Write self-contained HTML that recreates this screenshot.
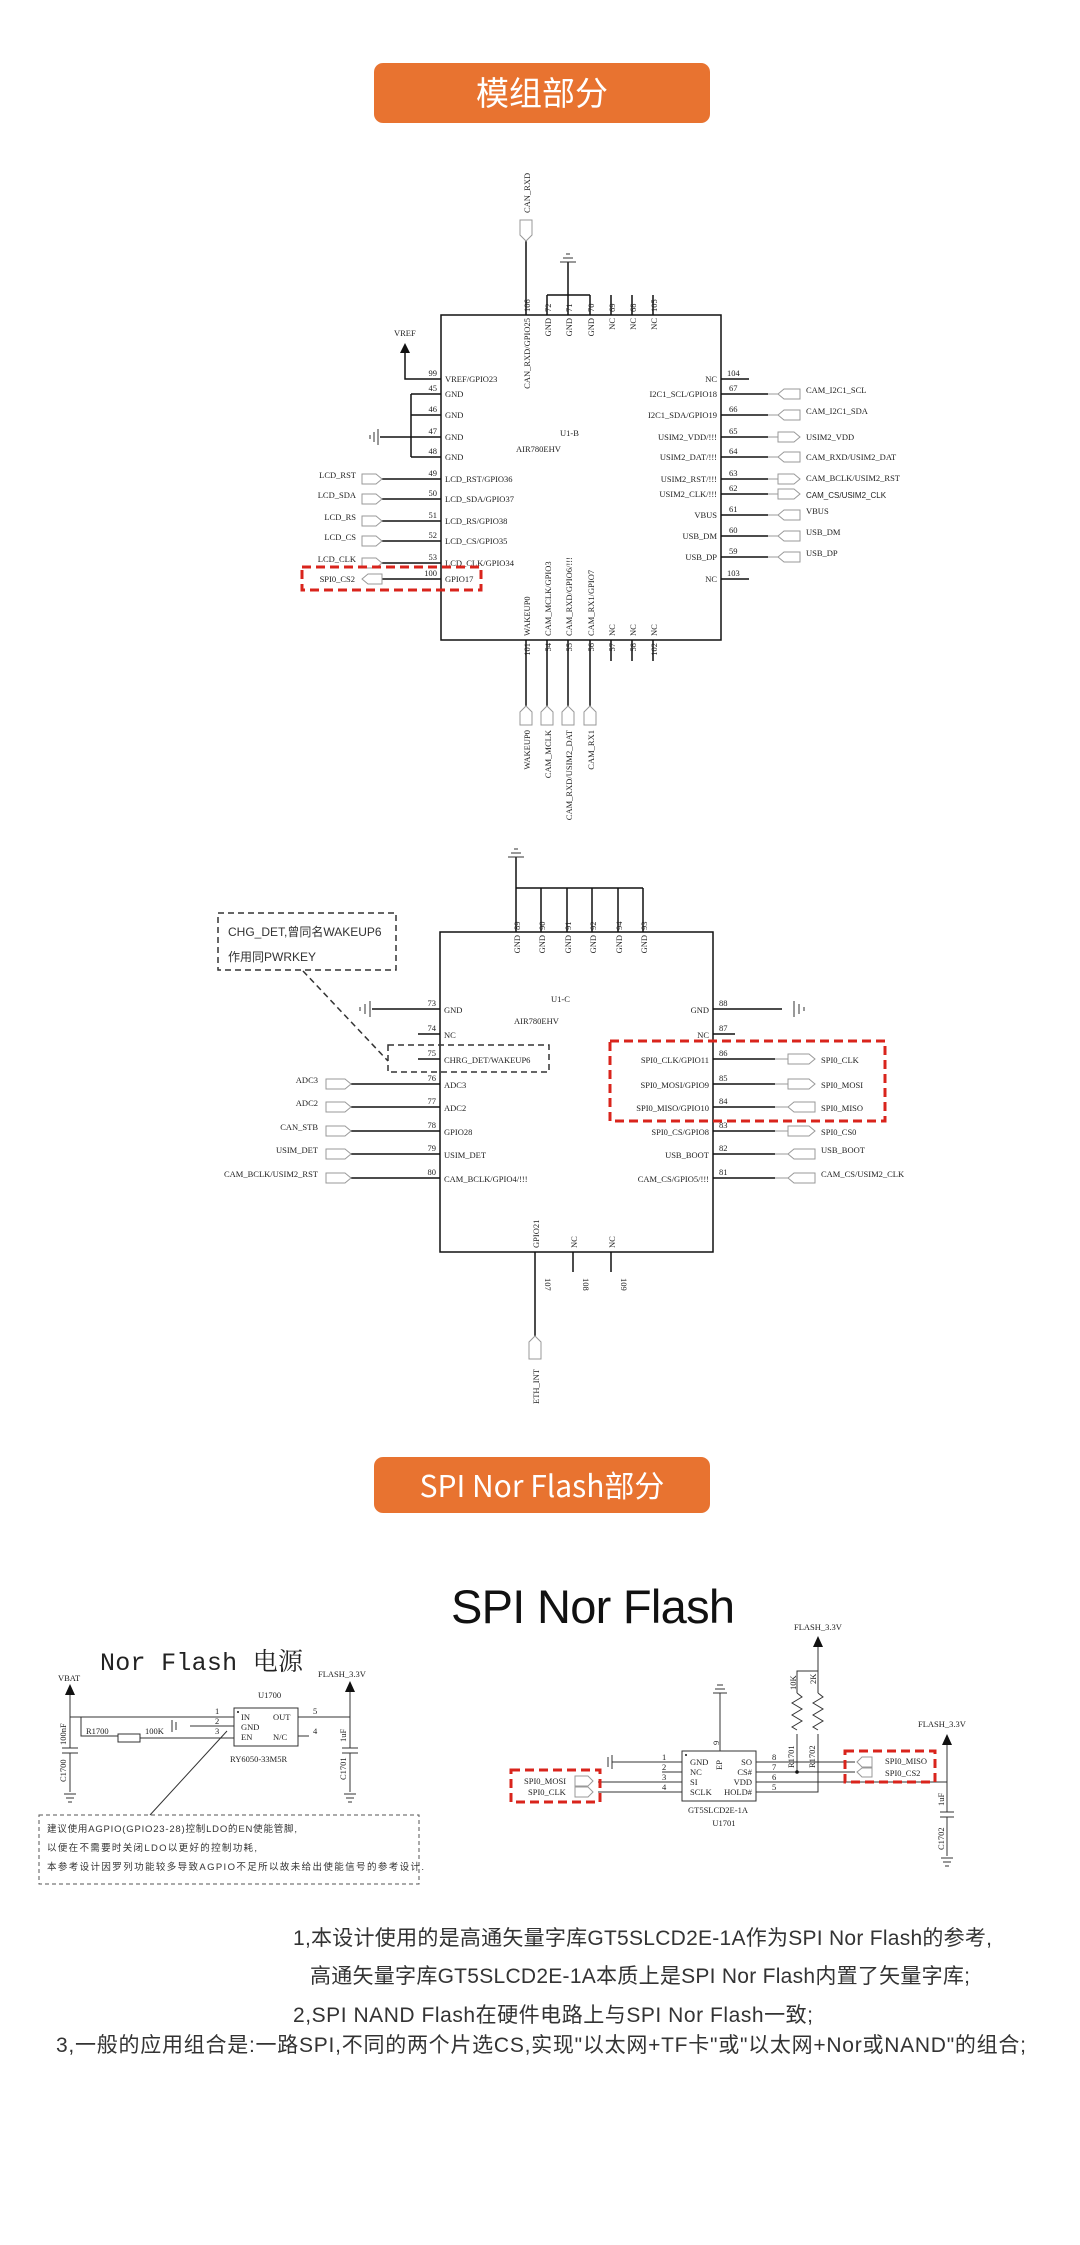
<!DOCTYPE html>
<html><head><meta charset="utf-8"><style>
html,body{margin:0;padding:0;background:#fff}
svg{display:block}
.s{font-family:"Liberation Serif","Noto Serif CJK SC",serif;font-size:8.5px;fill:#222}
.n{font-family:"Liberation Serif",serif;font-size:8.5px;fill:#222}
.l{stroke:#111;stroke-width:1.5;fill:none}
.t{stroke:#333;stroke-width:1;fill:none}
.c{stroke:#999;stroke-width:1;fill:#fff}
.r{stroke:#d9241c;stroke-width:3;stroke-dasharray:9,5;fill:none}
.k{stroke:#333;stroke-width:1.5;stroke-dasharray:6,4;fill:none}
.cj{font-family:"Liberation Sans","Noto Sans CJK SC",sans-serif;fill:#333}
</style></head><body>
<svg width="1080" height="2245" viewBox="0 0 1080 2245" xmlns="http://www.w3.org/2000/svg">
<!-- header 1 -->
<rect x="374" y="63" width="336" height="60" rx="9" fill="#e87330"/>
<text x="542" y="105" text-anchor="middle" font-family="'Noto Sans CJK SC',sans-serif" font-size="33" fill="#fff">模组部分</text>

<!-- ===== U1-B ===== -->
<rect x="441" y="315" width="280" height="325" class="l"/>
<text x="560" y="436" class="s">U1-B</text>
<text x="516" y="452" class="s">AIR780EHV</text>
<!-- top pins -->
<g class="l">
<path d="M526 315V241M547 315V295M568 315V262M590 315V295M611 315V295M632 315V295M653 315V295M547 295H590"/>
<path d="M560 262H576M563 258H573M566 254H570" class="t"/>
</g>
<polygon points="520,220 532,220 532,235 526,241 520,235" class="c"/>
<text transform="translate(530,213) rotate(-90)" class="s">CAN_RXD</text>
<g class="n">
<text transform="translate(530,312) rotate(-90)">106</text>
<text transform="translate(551,312) rotate(-90)">72</text>
<text transform="translate(572,312) rotate(-90)">71</text>
<text transform="translate(594,312) rotate(-90)">70</text>
<text transform="translate(615,312) rotate(-90)">69</text>
<text transform="translate(636,312) rotate(-90)">68</text>
<text transform="translate(657,312) rotate(-90)">105</text>
</g>
<g class="s" text-anchor="end">
<text transform="translate(530,318) rotate(-90)">CAN_RXD/GPIO25</text>
<text transform="translate(551,318) rotate(-90)">GND</text>
<text transform="translate(572,318) rotate(-90)">GND</text>
<text transform="translate(594,318) rotate(-90)">GND</text>
<text transform="translate(615,318) rotate(-90)">NC</text>
<text transform="translate(636,318) rotate(-90)">NC</text>
<text transform="translate(657,318) rotate(-90)">NC</text>
</g>
<!-- VREF -->
<polygon points="400,353 410,353 405,343" fill="#111"/>
<text x="394" y="336" class="s">VREF</text>
<path d="M405 353V379H441" class="l"/>
<!-- GND bracket -->
<path d="M411 394V457M411 394H441M411 415H441M411 437H441M411 457H441M380 437H411" class="l"/>
<path d="M378 429V445M374 432V442M370 435V439" class="t"/>
<!-- left pins -->
<g class="l"><path d="M382 479H441M382 499H441M382 521H441M382 541H441M382 563H441M382 579H441"/></g>
<g class="c">
<polygon points="362,474 376,474 382,479 376,484 362,484"/>
<polygon points="362,494 376,494 382,499 376,504 362,504"/>
<polygon points="362,516 376,516 382,521 376,526 362,526"/>
<polygon points="362,536 376,536 382,541 376,546 362,546"/>
<polygon points="362,558 376,558 382,563 376,568 362,568"/>
<polygon points="362,579 368,574 382,574 382,584 368,584"/>
</g>
<g class="n" text-anchor="end">
<text x="437" y="376">99</text><text x="437" y="391">45</text><text x="437" y="412">46</text><text x="437" y="434">47</text><text x="437" y="454">48</text><text x="437" y="476">49</text><text x="437" y="496">50</text><text x="437" y="518">51</text><text x="437" y="538">52</text><text x="437" y="560">53</text><text x="437" y="576">100</text>
</g>
<g class="s" text-anchor="end">
<text x="356" y="478">LCD_RST</text><text x="356" y="498">LCD_SDA</text><text x="356" y="520">LCD_RS</text><text x="356" y="540">LCD_CS</text><text x="356" y="562">LCD_CLK</text><text x="355" y="582">SPI0_CS2</text>
</g>
<g class="s">
<text x="445" y="382">VREF/GPIO23</text><text x="445" y="397">GND</text><text x="445" y="418">GND</text><text x="445" y="440">GND</text><text x="445" y="460">GND</text><text x="445" y="482">LCD_RST/GPIO36</text><text x="445" y="502">LCD_SDA/GPIO37</text><text x="445" y="524">LCD_RS/GPIO38</text><text x="445" y="544">LCD_CS/GPIO35</text><text x="445" y="566">LCD_CLK/GPIO34</text><text x="445" y="582">GPIO17</text>
</g>
<rect x="302" y="567" width="179" height="23" class="r"/>
<!-- right pins -->
<g class="l"><path d="M721 379H749M721 394H768M721 415H768M721 437H768M721 457H768M721 479H768M721 494H768M721 515H768M721 536H768M721 557H768M721 579H749"/></g>
<g class="c">
<polygon points="778,394 784,389 800,389 800,399 784,399"/>
<polygon points="778,415 784,410 800,410 800,420 784,420"/>
<polygon points="778,432 794,432 800,437 794,442 778,442"/>
<polygon points="778,457 784,452 800,452 800,462 784,462"/>
<polygon points="778,474 794,474 800,479 794,484 778,484"/>
<polygon points="778,489 794,489 800,494 794,499 778,499"/>
<polygon points="778,515 784,510 800,510 800,520 784,520"/>
<polygon points="778,536 784,531 800,531 800,541 784,541"/>
<polygon points="778,557 784,552 800,552 800,562 784,562"/>
</g>
<path d="M768 394H778M768 415H778M768 437H778M768 457H778M768 479H778M768 494H778M768 515H778M768 536H778M768 557H778" class="c"/>
<g class="n">
<text x="727" y="376">104</text><text x="729" y="391">67</text><text x="729" y="412">66</text><text x="729" y="434">65</text><text x="729" y="454">64</text><text x="729" y="476">63</text><text x="729" y="491">62</text><text x="729" y="512">61</text><text x="729" y="533">60</text><text x="729" y="554">59</text><text x="727" y="576">103</text>
</g>
<g class="s" text-anchor="end">
<text x="717" y="382">NC</text><text x="717" y="397">I2C1_SCL/GPIO18</text><text x="717" y="418">I2C1_SDA/GPIO19</text><text x="717" y="440">USIM2_VDD/!!!</text><text x="717" y="460">USIM2_DAT/!!!</text><text x="717" y="482">USIM2_RST/!!!</text><text x="717" y="497">USIM2_CLK/!!!</text><text x="717" y="518">VBUS</text><text x="717" y="539">USB_DM</text><text x="717" y="560">USB_DP</text><text x="717" y="582">NC</text>
</g>
<g class="s">
<text x="806" y="393">CAM_I2C1_SCL</text><text x="806" y="414">CAM_I2C1_SDA</text><text x="806" y="440">USIM2_VDD</text><text x="806" y="460">CAM_RXD/USIM2_DAT</text><text x="806" y="481">CAM_BCLK/USIM2_RST</text><text x="806" y="498" font-family="Liberation Sans" font-size="8">CAM_CS/USIM2_CLK</text><text x="806" y="514">VBUS</text><text x="806" y="535">USB_DM</text><text x="806" y="556">USB_DP</text>
</g>
<!-- bottom pins -->
<g class="l"><path d="M526 640V706M547 640V706M568 640V706M590 640V706M611 640V661M632 640V661M653 640V661"/></g>
<g class="c">
<polygon points="526,706 532,712 532,725 520,725 520,712"/>
<polygon points="547,706 553,712 553,725 541,725 541,712"/>
<polygon points="568,706 574,712 574,725 562,725 562,712"/>
<polygon points="590,706 596,712 596,725 584,725 584,712"/>
</g>
<g class="n" text-anchor="end">
<text transform="translate(530,643) rotate(-90)">101</text><text transform="translate(551,643) rotate(-90)">54</text><text transform="translate(572,643) rotate(-90)">55</text><text transform="translate(594,643) rotate(-90)">56</text><text transform="translate(615,643) rotate(-90)">57</text><text transform="translate(636,643) rotate(-90)">58</text><text transform="translate(657,643) rotate(-90)">102</text>
</g>
<g class="s">
<text transform="translate(530,636) rotate(-90)">WAKEUP0</text><text transform="translate(551,636) rotate(-90)">CAM_MCLK/GPIO3</text><text transform="translate(572,636) rotate(-90)">CAM_RXD/GPIO6/!!!</text><text transform="translate(594,636) rotate(-90)">CAM_RX1/GPIO7</text><text transform="translate(615,636) rotate(-90)">NC</text><text transform="translate(636,636) rotate(-90)">NC</text><text transform="translate(657,636) rotate(-90)">NC</text>
</g>
<g class="s" text-anchor="end">
<text transform="translate(530,730) rotate(-90)">WAKEUP0</text><text transform="translate(551,730) rotate(-90)">CAM_MCLK</text><text transform="translate(572,730) rotate(-90)">CAM_RXD/USIM2_DAT</text><text transform="translate(594,730) rotate(-90)">CAM_RX1</text>
</g>

<!-- ===== U1-C ===== -->
<rect x="440" y="932" width="273" height="320" class="l"/>
<text x="551" y="1002" class="s">U1-C</text>
<text x="514" y="1024" class="s">AIR780EHV</text>
<path d="M516 932V857M541 932V888M567 932V888M592 932V888M618 932V888M643 932V888M516 888H643" class="l"/>
<path d="M508 857H524M511 853H521M514 849H518" class="t"/>
<g class="n">
<text transform="translate(520,930) rotate(-90)">89</text><text transform="translate(545,930) rotate(-90)">90</text><text transform="translate(571,930) rotate(-90)">91</text><text transform="translate(596,930) rotate(-90)">92</text><text transform="translate(622,930) rotate(-90)">94</text><text transform="translate(647,930) rotate(-90)">93</text>
</g>
<g class="s" text-anchor="end">
<text transform="translate(520,935) rotate(-90)">GND</text><text transform="translate(545,935) rotate(-90)">GND</text><text transform="translate(571,935) rotate(-90)">GND</text><text transform="translate(596,935) rotate(-90)">GND</text><text transform="translate(622,935) rotate(-90)">GND</text><text transform="translate(647,935) rotate(-90)">GND</text>
</g>
<!-- left -->
<g class="l"><path d="M372 1009H440M418 1034H440M418 1059H440M351 1084H440M351 1107H440M351 1131H440M351 1154H440M351 1178H440"/></g>
<path d="M370 1001V1017M365 1004V1014M360 1007V1011" class="t"/>
<path d="M794 1001V1017M799 1004V1014M804 1007V1011" class="t"/>
<g class="c">
<polygon points="326,1079 345,1079 351,1084 345,1089 326,1089"/>
<polygon points="326,1102 345,1102 351,1107 345,1112 326,1112"/>
<polygon points="326,1126 345,1126 351,1131 345,1136 326,1136"/>
<polygon points="326,1149 345,1149 351,1154 345,1159 326,1159"/>
<polygon points="326,1173 345,1173 351,1178 345,1183 326,1183"/>
</g>
<g class="n" text-anchor="end">
<text x="436" y="1006">73</text><text x="436" y="1031">74</text><text x="436" y="1056">75</text><text x="436" y="1081">76</text><text x="436" y="1104">77</text><text x="436" y="1128">78</text><text x="436" y="1151">79</text><text x="436" y="1175">80</text>
</g>
<g class="s">
<text x="444" y="1013">GND</text><text x="444" y="1038">NC</text><text x="444" y="1063">CHRG_DET/WAKEUP6</text><text x="444" y="1088">ADC3</text><text x="444" y="1111">ADC2</text><text x="444" y="1135">GPIO28</text><text x="444" y="1158">USIM_DET</text><text x="444" y="1182">CAM_BCLK/GPIO4/!!!</text>
</g>
<g class="s" text-anchor="end">
<text x="318" y="1083">ADC3</text><text x="318" y="1106">ADC2</text><text x="318" y="1130">CAN_STB</text><text x="318" y="1153">USIM_DET</text><text x="318" y="1177">CAM_BCLK/USIM2_RST</text>
</g>
<!-- right -->
<g class="l"><path d="M713 1009H782M713 1034H735M713 1059H775M713 1084H775M713 1107H775M713 1131H775M713 1154H775M713 1178H775"/></g>
<path d="M775 1059H788M775 1084H788M775 1107H788M775 1131H788M775 1154H788M775 1178H788" class="c"/>
<g class="c">
<polygon points="788,1054 809,1054 815,1059 809,1064 788,1064"/>
<polygon points="788,1079 809,1079 815,1084 809,1089 788,1089"/>
<polygon points="788,1107 794,1102 815,1102 815,1112 794,1112"/>
<polygon points="788,1126 809,1126 815,1131 809,1136 788,1136"/>
<polygon points="788,1154 794,1149 815,1149 815,1159 794,1159"/>
<polygon points="788,1178 794,1173 815,1173 815,1183 794,1183"/>
</g>
<g class="n">
<text x="719" y="1006">88</text><text x="719" y="1031">87</text><text x="719" y="1056">86</text><text x="719" y="1081">85</text><text x="719" y="1104">84</text><text x="719" y="1128">83</text><text x="719" y="1151">82</text><text x="719" y="1175">81</text>
</g>
<g class="s" text-anchor="end">
<text x="709" y="1013">GND</text><text x="709" y="1038">NC</text><text x="709" y="1063">SPI0_CLK/GPIO11</text><text x="709" y="1088">SPI0_MOSI/GPIO9</text><text x="709" y="1111">SPI0_MISO/GPIO10</text><text x="709" y="1135">SPI0_CS/GPIO8</text><text x="709" y="1158">USB_BOOT</text><text x="709" y="1182">CAM_CS/GPIO5/!!!</text>
</g>
<g class="s">
<text x="821" y="1063">SPI0_CLK</text><text x="821" y="1088">SPI0_MOSI</text><text x="821" y="1111">SPI0_MISO</text><text x="821" y="1135">SPI0_CS0</text><text x="821" y="1153">USB_BOOT</text><text x="821" y="1177">CAM_CS/USIM2_CLK</text>
</g>
<rect x="610" y="1041" width="275" height="80" class="r"/>
<rect x="388" y="1045" width="161" height="27" class="k"/>
<rect x="218" y="913" width="178" height="57" class="k"/>
<path d="M303 971L388 1061" class="k"/>
<text x="228" y="936" class="cj" font-size="12">CHG_DET,曾同名WAKEUP6</text>
<text x="228" y="961" class="cj" font-size="12">作用同PWRKEY</text>
<!-- bottom -->
<path d="M535 1252V1336M573 1252V1272M611 1252V1272" class="l"/>
<polygon points="535,1336 541,1342 541,1359 529,1359 529,1342" class="c"/>
<g class="n"><text transform="translate(545,1278) rotate(90)">107</text><text transform="translate(583,1278) rotate(90)">108</text><text transform="translate(621,1278) rotate(90)">109</text></g>
<g class="s"><text transform="translate(539,1248) rotate(-90)">GPIO21</text><text transform="translate(577,1248) rotate(-90)">NC</text><text transform="translate(615,1248) rotate(-90)">NC</text></g>
<text transform="translate(539,1404) rotate(-90)" class="s">ETH_INT</text>

<!-- header 2 -->
<rect x="374" y="1457" width="336" height="56" rx="9" fill="#e87330"/>
<text x="542" y="1497" text-anchor="middle" font-family="'Noto Sans CJK SC',sans-serif" font-size="30" fill="#fff">SPI Nor Flash部分</text>

<text x="593" y="1623" text-anchor="middle" font-family="'Liberation Sans','Noto Sans CJK SC',sans-serif" font-size="47" fill="#111" textLength="284">SPI Nor Flash</text>

<!-- Nor Flash power -->
<text x="100" y="1670" font-family="'Liberation Mono','Noto Serif CJK SC',monospace" font-size="25" fill="#222" textLength="203">Nor Flash 电源</text>
<text x="58" y="1681" class="s">VBAT</text>
<polygon points="65,1695 75,1695 70,1684" fill="#111"/>
<path d="M70 1695V1748M70 1753V1792M62 1748H78M62 1753H78M70 1717H234M81 1717V1736H118M140 1738H234M190 1726H234M298 1717H350M298 1736H309" class="t"/>
<path d="M64 1794H76M66 1798H74M68 1802H72" class="t"/>
<rect x="118" y="1734" width="22" height="8" class="t"/>
<text x="86" y="1734" class="s">R1700</text><path d="M85 1736H116" class="t"/>
<text x="145" y="1734" class="s">100K</text>
<path d="M172 1720V1732M176 1722V1730" class="t"/>
<rect x="234" y="1708" width="64" height="38" class="t"/>
<circle cx="238" cy="1712" r="1" fill="#111"/>
<g class="s" font-size="7.5"><text x="241" y="1720">IN</text><text x="241" y="1730">GND</text><text x="241" y="1740">EN</text><text x="273" y="1720">OUT</text><text x="273" y="1740">N/C</text>
<text x="215" y="1714">1</text><text x="215" y="1724">2</text><text x="215" y="1734">3</text><text x="313" y="1714">5</text><text x="313" y="1734">4</text></g>
<text x="258" y="1698" class="s">U1700</text>
<text x="230" y="1762" class="s">RY6050-33M5R</text>
<text x="318" y="1677" class="s">FLASH_3.3V</text>
<polygon points="345,1692 355,1692 350,1681" fill="#111"/>
<path d="M350 1692V1748M350 1753V1792M342 1748H358M342 1753H358M344 1794H356M346 1798H354M348 1802H352" class="t"/>
<g class="s"><text transform="translate(66,1782) rotate(-90)">C1700</text><text transform="translate(66,1745) rotate(-90)">100nF</text><text transform="translate(346,1780) rotate(-90)">C1701</text><text transform="translate(346,1742) rotate(-90)">1uF</text></g>
<path d="M150 1815L227 1731" class="t"/>
<rect x="39" y="1815" width="380" height="69" stroke="#555" stroke-width="1" stroke-dasharray="4,3" fill="none"/>
<g class="cj" font-size="9.5" fill="#222"><text x="47" y="1832" textLength="250">建议使用AGPIO(GPIO23-28)控制LDO的EN使能管脚,</text><text x="47" y="1851" textLength="210">以便在不需要时关闭LDO以更好的控制功耗,</text><text x="47" y="1870" textLength="377">本参考设计因罗列功能较多导致AGPIO不足所以故未给出使能信号的参考设计.</text></g>

<!-- SPI flash -->
<rect x="682" y="1751" width="74" height="50" class="t"/>
<circle cx="686" cy="1755" r="1" fill="#111"/>
<g class="s" font-size="7.5"><text x="690" y="1765">GND</text><text x="690" y="1775">NC</text><text x="690" y="1785">SI</text><text x="690" y="1795">SCLK</text>
<g text-anchor="end"><text x="752" y="1765">SO</text><text x="752" y="1775">CS#</text><text x="752" y="1785">VDD</text><text x="752" y="1795">HOLD#</text></g>
<text transform="translate(722,1770) rotate(-90)">EP</text>
<text x="662" y="1760">1</text><text x="662" y="1770">2</text><text x="662" y="1780">3</text><text x="662" y="1790">4</text>
<text x="772" y="1760">8</text><text x="772" y="1770">7</text><text x="772" y="1780">6</text><text x="772" y="1790">5</text>
<text transform="translate(719,1745) rotate(-90)">9</text></g>
<path d="M612 1762H682M662 1772H682M598 1782H682M598 1792H682" class="t"/>
<path d="M612 1755V1769M608 1757V1767" class="t"/>
<path d="M720 1751V1693M713 1693H727M715 1689H725M717 1685H723" class="t"/>
<path d="M756 1762H855M756 1772H855M756 1782H947M756 1792H818V1734M797 1772V1734M797 1693V1671H818M818 1693V1647" class="t"/>
<path d="M797 1693l5 4-10 6 10 6-10 6 10 6-10 6 5 3M818 1693l5 4-10 6 10 6-10 6 10 6-10 6 5 3" class="t"/>
<circle cx="797" cy="1772" r="1.8" fill="#111"/>
<polygon points="813,1647 823,1647 818,1636" fill="#111"/>
<text x="794" y="1630" class="s">FLASH_3.3V</text>
<g class="s"><text transform="translate(796,1690) rotate(-90)">10K</text><text transform="translate(816,1684) rotate(-90)">2K</text><text transform="translate(794,1768) rotate(-90)">R1701</text><text transform="translate(815,1768) rotate(-90)">R1702</text></g>
<g class="c"><polygon points="575,1776 588,1776 593,1781 588,1786 575,1786"/><polygon points="575,1787 588,1787 593,1792 588,1797 575,1797"/>
<polygon points="857,1762 862,1757 872,1757 872,1767 862,1767"/><polygon points="857,1772 862,1768 872,1768 872,1777 862,1777"/></g>
<g class="s" font-size="7.5"><text x="524" y="1784">SPI0_MOSI</text><text x="528" y="1795">SPI0_CLK</text><text x="885" y="1764">SPI0_MISO</text><text x="885" y="1776">SPI0_CS2</text></g>
<rect x="511" y="1770" width="89" height="32" class="r"/>
<rect x="845" y="1751" width="90" height="31" class="r"/>
<text x="918" y="1727" class="s">FLASH_3.3V</text>
<polygon points="942,1745 952,1745 947,1734" fill="#111"/>
<path d="M947 1745V1812M947 1817V1856M940 1812H954M940 1817H954M941 1858H953M943 1862H951M945 1866H949" class="t"/>
<g class="s"><text transform="translate(944,1806) rotate(-90)">1uF</text><text transform="translate(944,1850) rotate(-90)">C1702</text></g>
<text x="718" y="1813" text-anchor="middle" class="s" font-size="7.5">GT5SLCD2E-1A</text>
<text x="724" y="1826" text-anchor="middle" class="s" font-size="7.5">U1701</text>

<!-- bottom notes -->
<g class="cj" font-size="21">
<text x="293" y="1945" textLength="699">1,本设计使用的是高通矢量字库GT5SLCD2E-1A作为SPI Nor Flash的参考,</text>
<text x="310" y="1983" textLength="660">高通矢量字库GT5SLCD2E-1A本质上是SPI Nor Flash内置了矢量字库;</text>
<text x="293" y="2022" textLength="520">2,SPI  NAND  Flash在硬件电路上与SPI Nor Flash一致;</text>
<text x="56" y="2052" textLength="970">3,一般的应用组合是:一路SPI,不同的两个片选CS,实现"以太网+TF卡"或"以太网+Nor或NAND"的组合;</text>
</g>
</svg>
</body></html>
